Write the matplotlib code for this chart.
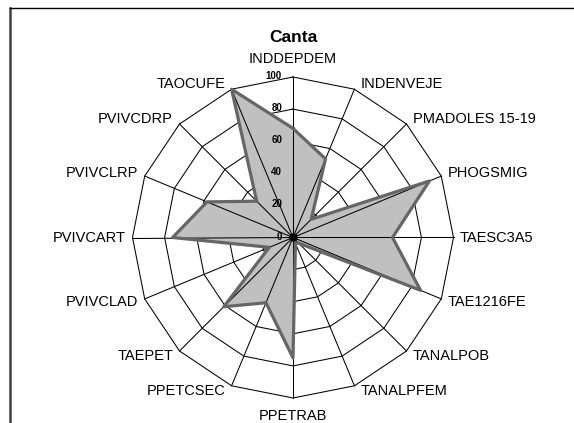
import matplotlib
matplotlib.use("Agg")
import matplotlib.lines
import matplotlib.pyplot
import numpy

title = "Canta"
categories = [
	"INDDEPDEM", "INDENVEJE", "PMADOLES 15-19", "PHOGSMIG", "TAESC3A5", "TAE1216FE",
	"TANALPOB", "TANALPFEM", "PPETRAB", "PPETCSEC", "TAEPET", "PVIVCLAD",
	"PVIVCART", "PVIVCLRP", "PVIVCDRP", "TAOCUFE",
]
values = [68, 53, 16, 92, 62, 86, 5, 4, 75, 44, 61, 16, 75, 58, 32, 100]
ticks = [0, 20, 40, 60, 80, 100]

matplotlib.pyplot.rcParams["font.family"] = ["Liberation Sans", "DejaVu Sans"]

W, H = 574, 423
px = 0.72  # points per pixel at dpi 100

figure = matplotlib.pyplot.figure(figsize=(W / 100, H / 100), dpi=100)
cx, cy, R = 293, 237.5, 160.5
axes = figure.add_axes(
	[(cx - R) / W, (H - cy - R) / H, 2 * R / W, 2 * R / H], projection="polar"
)
axes.set_theta_zero_location("N")
axes.set_theta_direction(-1)
axes.grid(False)
axes.set_xticks([])
axes.set_yticks([])
axes.spines["polar"].set_visible(False)
axes.patch.set_visible(False)

n = len(categories)
theta = numpy.arange(n) * 2 * numpy.pi / n
theta_closed = numpy.append(theta, theta[0])
values_closed = values + values[:1]

# rings
for t in ticks[1:]:
	axes.plot(theta_closed, [t] * (n + 1), color="black", linewidth=0.75, zorder=1, clip_on=False)

# series
axes.fill(theta_closed, values_closed, color="#c0c0c0", linewidth=0, zorder=2, clip_on=False)

# spokes
for t in theta:
	axes.plot([t, t], [0, ticks[-1]], color="black", linewidth=0.75, zorder=3, clip_on=False)

axes.plot(theta_closed, values_closed, color="#666666", linewidth=2.3, zorder=4, clip_on=False)
axes.plot([0], [0], marker="o", markersize=5, color="black", zorder=5, clip_on=False)
axes.set_ylim(0, ticks[-1])

# value labels
for t in ticks:
	axes.annotate(
		str(t), xy=(0, t), xytext=(-11 * px, 1 * px), textcoords="offset points",
		ha="right", va="center", fontsize=7, fontweight="bold", annotation_clip=False,
	)

# category labels
for name, t in zip(categories, theta):
	s = numpy.sin(t)
	c = numpy.cos(t)
	if abs(s) < 0.1:
		ha = "center"
		dx = 0
		dy = 18.5 * numpy.sign(c)
	else:
		ha = "left" if s > 0 else "right"
		dx = 6.5 * numpy.sign(s)
		dy = 5 * numpy.sign(c) * min(1.0, abs(c) * 1.5)
	axes.annotate(
		name, xy=(t, ticks[-1]), xytext=(dx * px, dy * px), textcoords="offset points",
		ha=ha, va="center", fontsize=10.5, annotation_clip=False,
	)

figure.text(cx / W, 1 - 37 / H, title, ha="center", va="center", fontsize=12.5, fontweight="bold")

# chart area border (only top and left edges are inside the picture)
figure.add_artist(matplotlib.lines.Line2D(
	[10 / W, 10 / W], [0, 1 - 8 / H], transform=figure.transFigure, color="#404040", linewidth=1.8
))
figure.add_artist(matplotlib.lines.Line2D(
	[10 / W, 1], [1 - 8 / H, 1 - 8 / H], transform=figure.transFigure, color="black", linewidth=1.0
))

figure.savefig("out.png", dpi=100)
